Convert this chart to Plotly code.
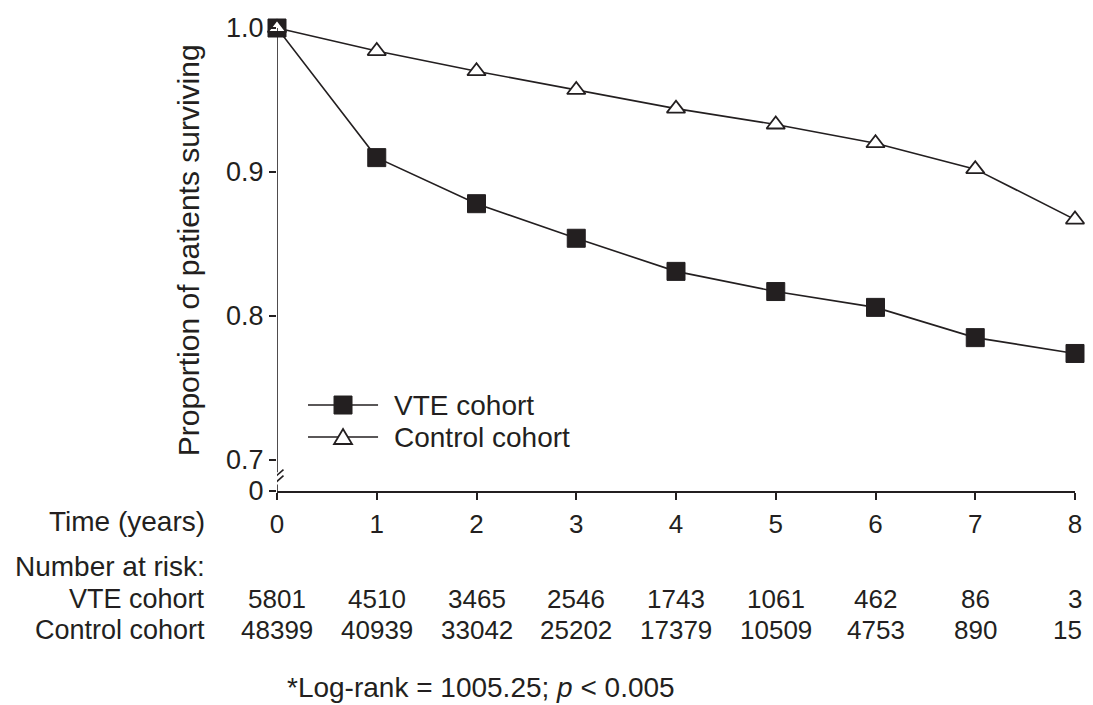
import plotly.graph_objects as go

years = [0, 1, 2, 3, 4, 5, 6, 7, 8]
vte_surv = [1.0, 0.910, 0.878, 0.854, 0.831, 0.817, 0.806, 0.785, 0.774]
ctrl_surv = [1.0, 0.984, 0.970, 0.957, 0.944, 0.933, 0.920, 0.902, 0.867]
vte_risk = ["5801", "4510", "3465", "2546", "1743", "1061", "462", "86", "3"]
ctrl_risk = ["48399", "40939", "33042", "25202", "17379", "10509", "4753", "890", "15"]
ytick_vals = [0.6785, 0.7, 0.8, 0.9, 1.0]
ytick_text = ["0", "0.7", "0.8", "0.9", "1.0"]
series_names = ["VTE cohort", "Control cohort"]

INK = "#231f20"
FONT = "Liberation Sans, Arial, Helvetica, sans-serif"
FS_TXT = 28
FS_NUM = 26
YMIN = 0.6785

fig = go.Figure()
fig.add_trace(go.Scatter(x=years, y=vte_surv, mode="lines+markers", name=series_names[0],
                         line=dict(color=INK, width=1.6),
                         marker=dict(symbol="square", size=18, color=INK, line=dict(color=INK, width=1)),
                         cliponaxis=False, showlegend=False, hoverinfo="skip"))
fig.add_trace(go.Scatter(x=years, y=ctrl_surv, mode="lines+markers", name=series_names[1],
                         line=dict(color=INK, width=1.6),
                         marker=dict(symbol="triangle-up", size=16, color="white", line=dict(color=INK, width=1.8)),
                         cliponaxis=False, showlegend=False, hoverinfo="skip"))

shapes = []
# y-axis with break
shapes.append(dict(type="line", xref="x", yref="y", x0=0, x1=0, y0=1.0, y1=0.6915, line=dict(color=INK, width=1.6)))
shapes.append(dict(type="line", xref="x", yref="y", x0=0, x1=0, y0=0.6830, y1=YMIN, line=dict(color=INK, width=1.6)))
for dy in (0.0, 0.0042):
    shapes.append(dict(type="line", xref="x", yref="y", x0=-0.065, x1=0.065,
                       y0=0.6812 + dy, y1=0.6892 + dy, line=dict(color=INK, width=1.6)))

# legend samples
leg_y = [0.7382, 0.7160]
for i, ly in enumerate(leg_y):
    shapes.append(dict(type="line", xref="x", yref="y", x0=0.311, x1=1.013, y0=ly, y1=ly,
                       line=dict(color=INK, width=1.6)))
shapes.append(dict(type="rect", xref="x", yref="y", xsizemode="pixel", ysizemode="pixel",
                   xanchor=0.662, yanchor=leg_y[0], x0=-9, x1=9, y0=-9, y1=9,
                   fillcolor=INK, line=dict(color=INK, width=1)))
shapes.append(dict(type="path", xref="x", yref="y", xsizemode="pixel", ysizemode="pixel",
                   xanchor=0.662, yanchor=leg_y[1], path="M -9,-7 L 9,-7 L 0,8 Z",
                   fillcolor="white", line=dict(color=INK, width=1.8)))

annotations = []
for i, ly in enumerate(leg_y):
    annotations.append(dict(x=1.15, y=ly, xref="x", yref="y", text=series_names[i], showarrow=False,
                            xanchor="left", yanchor="middle", font=dict(size=FS_TXT, color=INK, family=FONT)))

# y-axis title
annotations.append(dict(x=-0.1115, y=0.52, xref="paper", yref="paper", text="Proportion of patients surviving",
                        textangle=-90, showarrow=False, xanchor="center", yanchor="middle",
                        font=dict(size=30, color=INK, family=FONT)))

def px_to_paper(py):
    return (491 - py) / 463.0

ROW_VTE = 599
ROW_CTRL = 630

lx = (207 - 277) / 798.0
for txt, py, fs in [("Time (years)", 521, FS_TXT), ("Number at risk:", 566, FS_TXT),
                    ("VTE cohort", ROW_VTE, 27), ("Control cohort", ROW_CTRL, 27)]:
    annotations.append(dict(x=lx, y=px_to_paper(py), xref="paper", yref="paper", text=txt, showarrow=False,
                            xanchor="right", yanchor="middle", font=dict(size=fs, color=INK, family=FONT)))

for i, yr in enumerate(years):
    for txt, py in [(vte_risk[i], ROW_VTE), (ctrl_risk[i], ROW_CTRL)]:
        last = i == len(years) - 1
        annotations.append(dict(x=yr, y=px_to_paper(py), xref="x", yref="paper", text=txt, showarrow=False,
                                xanchor="right" if last else "center", xshift=9 if last else 0,
                                yanchor="middle", font=dict(size=FS_NUM, color=INK, family=FONT)))

annotations.append(dict(x=(481 - 277) / 798.0, y=px_to_paper(687), xref="paper", yref="paper",
                        text="*Log-rank = 1005.25; <i>p</i> &lt; 0.005", showarrow=False,
                        xanchor="center", yanchor="middle", font=dict(size=FS_TXT, color=INK, family=FONT)))

fig.update_layout(
    width=1093, height=705,
    margin=dict(l=277, r=18, t=28, b=214),
    paper_bgcolor="white", plot_bgcolor="white",
    font=dict(family=FONT, size=FS_NUM, color=INK),
    hovermode=False,
    xaxis=dict(range=[0, 8], tickvals=years, ticktext=[str(y) for y in years],
               showgrid=False, zeroline=False, showline=True, linecolor=INK, linewidth=1.6,
               ticks="outside", ticklen=7, tickwidth=1.6, tickcolor=INK,
               tickfont=dict(size=FS_NUM, color=INK, family=FONT), ticklabelstandoff=2),
    yaxis=dict(range=[YMIN, 1.0], tickvals=ytick_vals, ticktext=ytick_text,
               showgrid=False, zeroline=False, showline=False,
               ticks="outside", ticklen=7, tickwidth=1.6, tickcolor=INK,
               tickfont=dict(size=27, color=INK, family=FONT)),
    shapes=shapes, annotations=annotations,
)

fig.write_html("out.html", config={"displayModeBar": False},
               post_script="document.body.style.margin='0';document.documentElement.style.overflow='hidden';document.body.style.overflow='hidden';")
